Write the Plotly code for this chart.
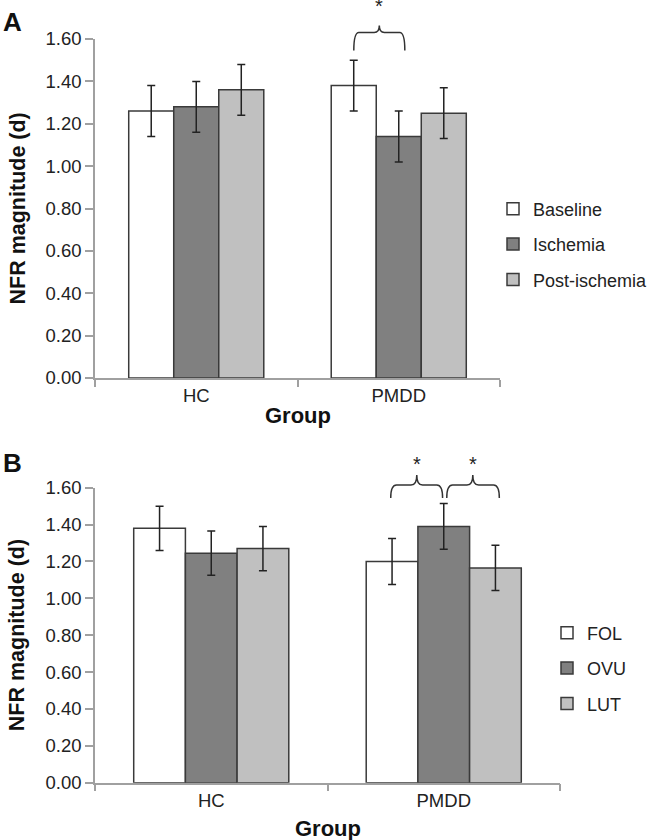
import plotly.graph_objects as go

groups = ['HC', 'PMDD']

# panel A - ischemia conditions
cond_a = ['Baseline', 'Ischemia', 'Post-ischemia']
baseline_a = [1.26, 1.38]
ischemia_a = [1.28, 1.14]
post_a = [1.36, 1.25]
baseline_a_err = [0.12, 0.12]
ischemia_a_err = [0.12, 0.12]
post_a_err = [0.12, 0.12]

# panel B - cycle phases
cond_b = ['FOL', 'OVU', 'LUT']
fol_b = [1.38, 1.20]
ovu_b = [1.245, 1.39]
lut_b = [1.27, 1.165]
fol_b_err = [0.12, 0.125]
ovu_b_err = [0.12, 0.124]
lut_b_err = [0.12, 0.123]

colors = ['#ffffff', '#808080', '#c0c0c0']
FONT = 'Liberation Sans, Arial, sans-serif'
YMAX = 1.6

fig = go.Figure()

def add_panel(names, means, errs, xa, ya, leg):
    for name, m, e, c in zip(names, means, errs, colors):
        fig.add_trace(go.Bar(
            x=groups, y=m, name=name, legendgroup=name + leg,
            marker=dict(color=c, line=dict(color='#3a3a3a', width=1.5)),
            error_y=dict(type='data', array=e, color='#222222', thickness=1.5, width=4),
            xaxis=xa, yaxis=ya, legend=leg,
        ))

add_panel(cond_a, [baseline_a, ischemia_a, post_a],
          [baseline_a_err, ischemia_a_err, post_a_err], 'x', 'y', 'legend')
add_panel(cond_b, [fol_b, ovu_b, lut_b],
          [fol_b_err, ovu_b_err, lut_b_err], 'x2', 'y2', 'legend2')

W, H = 655, 840

xax = dict(type='category', range=[-0.5, 1.5], showline=True, linecolor='#a0a0a0',
           linewidth=1.5, ticks='outside', tickson='boundaries', ticklen=7,
           tickcolor='#a0a0a0', tickwidth=1.5, showgrid=False, automargin=False,
           tickfont=dict(family=FONT, size=18.5, color='#222222'))
yax = dict(range=[0, YMAX], dtick=0.2, tickformat='.2f', showline=True,
           linecolor='#a0a0a0', linewidth=1.5, ticks='outside', ticklen=8,
           tickcolor='#a0a0a0', tickwidth=1.5, showgrid=False, zeroline=False,
           automargin=False, tickfont=dict(family=FONT, size=18.5, color='#222222'))

fig.update_layout(
    width=W, height=H,
    margin=dict(l=0, r=0, t=0, b=0, autoexpand=False),
    paper_bgcolor='white', plot_bgcolor='white',
    barmode='group', bargap=0.333, bargroupgap=0,
    font=dict(family=FONT, color='#222222'),
    xaxis=dict(xax, domain=[95 / W, 500 / W], anchor='y'),
    yaxis=dict(yax, domain=[1 - 378 / H, 1 - 39 / H], anchor='x'),
    xaxis2=dict(xax, domain=[95 / W, 560 / W], anchor='y2'),
    yaxis2=dict(yax, domain=[1 - 782.7 / H, 1 - 487.7 / H], anchor='x2'),
    legend=dict(x=493 / W, y=1 - 244.5 / H, xanchor='left', yanchor='middle',
                font=dict(family=FONT, size=18, color='#222222'),
                tracegroupgap=9, bgcolor='rgba(0,0,0,0)'),
    legend2=dict(x=547 / W, y=1 - 668.5 / H, xanchor='left', yanchor='middle',
                 font=dict(family=FONT, size=18, color='#222222'),
                 tracegroupgap=9, bgcolor='rgba(0,0,0,0)'),
)

# significance braces with asterisk
def brace(xa, xb, xm, ybot, yh, ytip, ystar, xref, yref):
    r = 0.025
    yb, yhh, yt = ybot / YMAX, yh / YMAX, ytip / YMAX
    path = (f'M{xa},{yb} Q{xa},{yhh} {xa + r},{yhh} L{xm - r},{yhh} '
            f'Q{xm},{yhh} {xm},{yt} Q{xm},{yhh} {xm + r},{yhh} '
            f'L{xb - r},{yhh} Q{xb},{yhh} {xb},{yb}')
    fig.add_shape(type='path', path=path, xref=xref, yref=yref + ' domain',
                  line=dict(color='#333333', width=1.5))
    fig.add_annotation(x=xm, y=ystar / YMAX, xref=xref, yref=yref + ' domain',
                       text='*', showarrow=False, font=dict(family=FONT, size=20, color='#222222'),
                       yanchor='bottom')

brace(0.778, 1.03, 0.904, 1.546, 1.631, 1.664, 1.694, 'x', 'y')
brace(0.772, 0.995, 0.884, 1.544, 1.614, 1.669, 1.66, 'x2', 'y2')
brace(1.013, 1.239, 1.125, 1.544, 1.614, 1.669, 1.66, 'x2', 'y2')

# panel letters and axis titles
for letter, yp in [('A', 22), ('B', 462.5)]:
    fig.add_annotation(x=1 / W, y=1 - yp / H, xref='paper', yref='paper', text='<b>' + letter + '</b>',
                       showarrow=False, xanchor='left', yanchor='middle',
                       font=dict(family=FONT, size=26, color='#111111'))

for ya in ['y', 'y2']:
    fig.add_annotation(x=17 / W, y=0.5, xref='paper', yref=ya + ' domain', xanchor='center',
                       text='<b>NFR magnitude (d)</b>', textangle=-90, showarrow=False,
                       font=dict(family=FONT, size=21.5, color='#111111'))

fig.add_annotation(x=0.5, y=1 - 415 / H, xref='x domain', yref='paper', text='<b>Group</b>',
                   showarrow=False, yanchor='middle', font=dict(family=FONT, size=22, color='#111111'))
fig.add_annotation(x=0.5, y=1 - 828 / H, xref='x2 domain', yref='paper', text='<b>Group</b>',
                   showarrow=False, yanchor='middle', font=dict(family=FONT, size=22, color='#111111'))

# the page body has a default 8px margin; drop it so the figure fills the window
fig.write_html('out.html', config={'displayModeBar': False},
               post_script="document.body.style.margin='0px';")
